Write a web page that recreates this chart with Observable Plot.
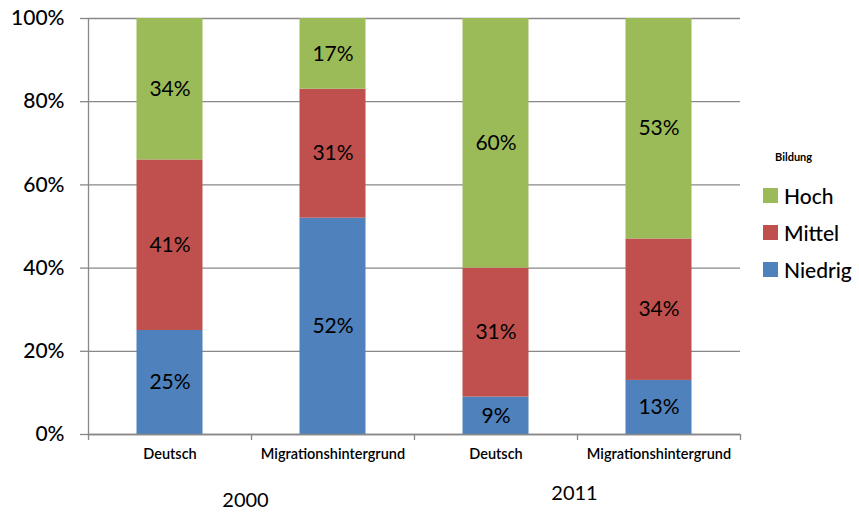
<!DOCTYPE html>
<html><head><meta charset="utf-8">
<script src="https://cdn.jsdelivr.net/npm/d3@7"></script>
<script src="https://cdn.jsdelivr.net/npm/@observablehq/plot@0.6"></script>
<style>
body{margin:0;background:#fff;font-family:Lato,"Open Sans",sans-serif;}
#wrap{position:relative;width:859px;height:513px;}
#legend{position:absolute;left:763px;top:150px;color:#000;}
#legend .title{font-size:11px;font-weight:bold;margin-left:12px;margin-bottom:14px;}
#legend .item{display:flex;align-items:center;height:37px;font-size:21px;font-weight:500;}
#legend .sw{width:15px;height:15px;margin-right:6px;}
</style></head>
<body><div id="wrap"><div id="legend"></div></div>
<script>
const categories = ["Deutsch","Migrationshintergrund","Deutsch","Migrationshintergrund"];
const years = ["2000","2011"];
const levels = ["Niedrig","Mittel","Hoch"];
const niedrig = [25,52,9,13];
const mittel = [41,31,31,34];
const hoch = [34,17,60,53];
const colors = {Niedrig:"#4F81BD", Mittel:"#C0504D", Hoch:"#9BBB59"};
const yTicks = [0,0.2,0.4,0.6,0.8,1];

const series = {Niedrig:niedrig, Mittel:mittel, Hoch:hoch};
const rows = [];
categories.forEach((c,i)=>{
  let acc = 0;
  levels.forEach(l=>{
    const v = series[l][i];
    rows.push({i, level:l, v, y1:acc/100, y2:Math.min(1,(acc+v)/100)});
    acc += v;
  });
});
const half = 33/163;
const font = "Lato, 'Open Sans', sans-serif";

const chart = Plot.plot({
  width:859, height:513,
  marginLeft:88, marginRight:119, marginTop:18, marginBottom:79,
  style:{fontFamily:font, color:"#000", background:"transparent", overflow:"visible"},
  x:{domain:[0,4], axis:null},
  y:{domain:[0,1], axis:null},
  marks:[
    Plot.gridY(yTicks,{stroke:"#888", strokeOpacity:1, strokeWidth:1.3}),
    Plot.axisY({ticks:yTicks, tickSize:8, stroke:"#888", strokeWidth:1.3, tickPadding:16, fontSize:21, fontWeight:500, tickFormat:d3.format(".0%")}),
    Plot.ruleX([0],{stroke:"#888", strokeWidth:1.3}),
    Plot.rect(rows,{x1:d=>d.i+0.5-half, x2:d=>d.i+0.5+half, y1:"y1", y2:"y2", fill:d=>colors[d.level]}),
    Plot.text(rows,{x:d=>d.i+0.5, y:d=>(d.y1+d.y2)/2, text:d=>d.v+"%", fontSize:21, fill:"#000"}),
    Plot.ruleY([0],{stroke:"#888", strokeWidth:1.3}),
    Plot.axisX({ticks:[0,1,2,3,4], tickSize:6, stroke:"#888", strokeWidth:1.3, tickFormat:()=>""}),
    Plot.axisX({ticks:[0.5,1.5,2.5,3.5], tickSize:0, tickPadding:14, fontSize:14.5, fontWeight:600, tickFormat:d=>categories[Math.floor(d)]}),
    Plot.text([years[0]],{x:()=>1, y:()=>0, dx:-6, dy:66, fontSize:20, fill:"#000", text:d=>d}),
    Plot.text([years[1]],{x:()=>3, y:()=>0, dx:-3, dy:59, fontSize:20, fill:"#000", text:d=>d})
  ]
});
const wrap = document.getElementById("wrap");
wrap.insertBefore(chart, wrap.firstChild);

const lg = document.getElementById("legend");
lg.innerHTML = '<div class="title">Bildung</div>' + ["Hoch","Mittel","Niedrig"].map(l=>
  `<div class="item"><div class="sw" style="background:${colors[l]}"></div>${l}</div>`).join("");
</script></body></html>
